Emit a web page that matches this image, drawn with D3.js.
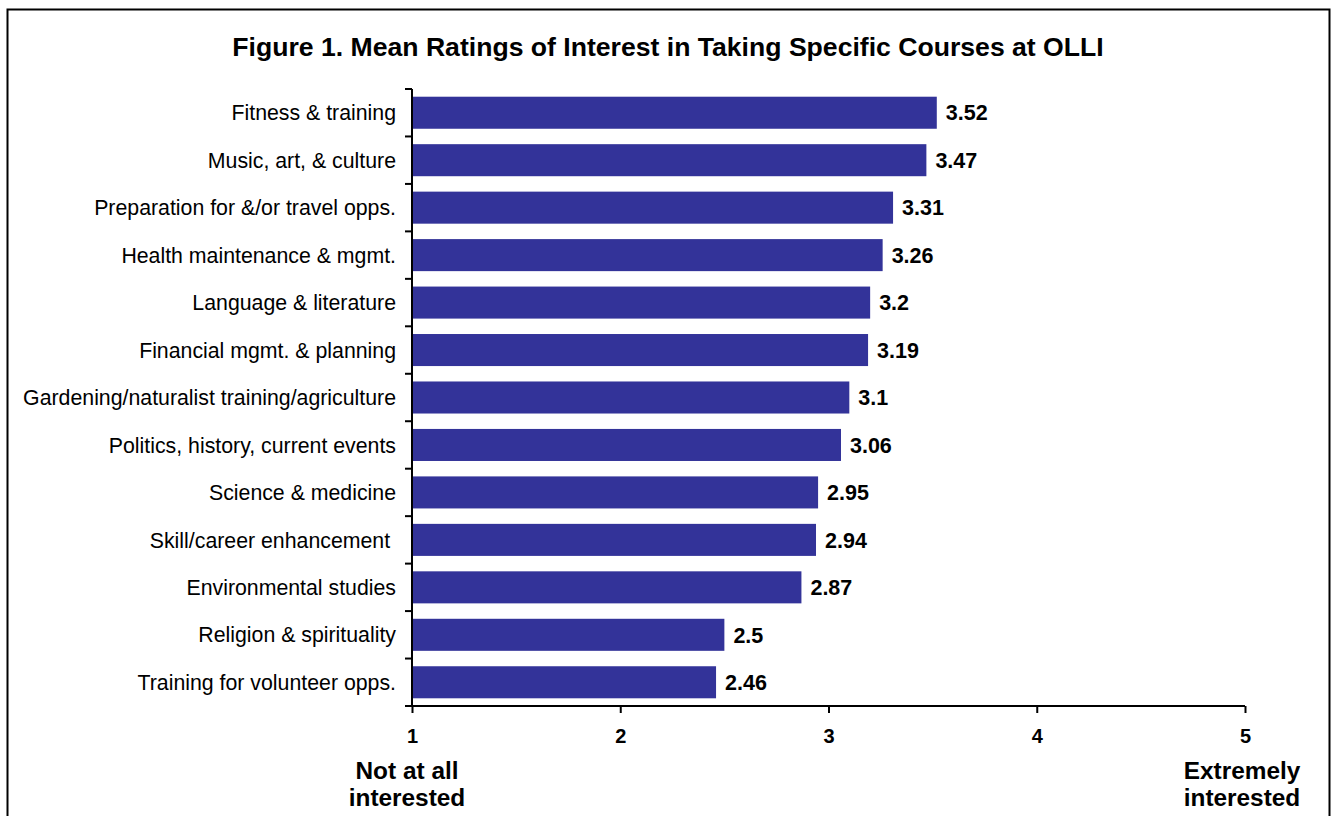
<!DOCTYPE html>
<html>
<head>
<meta charset="utf-8">
<script src="https://cdn.jsdelivr.net/npm/d3@7"></script>
<style>
  body { margin: 0; background: #fff; }
  text { font-family: "Liberation Sans", Arial, sans-serif; }
</style>
</head>
<body>
<div class="graph"></div>
<script>
const courses = [
  'Fitness & training',
  'Music, art, & culture',
  'Preparation for &/or travel opps.',
  'Health maintenance & mgmt.',
  'Language & literature',
  'Financial mgmt. & planning',
  'Gardening/naturalist training/agriculture',
  'Politics, history, current events',
  'Science & medicine',
  'Skill/career enhancement ',
  'Environmental studies',
  'Religion & spirituality',
  'Training for volunteer opps.'
];
const ratings = [3.52, 3.47, 3.31, 3.26, 3.2, 3.19, 3.1, 3.06, 2.95, 2.94, 2.87, 2.5, 2.46];
const ticks = [1, 2, 3, 4, 5];
const title = 'Figure 1. Mean Ratings of Interest in Taking Specific Courses at OLLI';

const records = courses.map((c, i) => ({ course: c, rating: ratings[i] }));

const width = 1332, height = 816;
const plot = { left: 412, right: 1245, top: 89, bottom: 706 };

const svg = d3.select('.graph').append('svg')
    .attr('width', width)
    .attr('height', height);

// frame
svg.append('rect')
    .attr('x', 7.5).attr('y', 9.5)
    .attr('width', 1322).attr('height', 820)
    .attr('fill', 'none')
    .attr('stroke', '#000')
    .attr('stroke-width', 2);

svg.append('text')
    .attr('x', 668).attr('y', 56)
    .attr('text-anchor', 'middle')
    .attr('font-size', 26.6)
    .attr('font-weight', 'bold')
    .text(title);

const scaleX = d3.scaleLinear()
    .domain([1, 5])
    .range([plot.left, plot.right]);

const scaleY = d3.scaleBand()
    .domain(courses)
    .range([plot.top, plot.bottom])
    .paddingInner(0.325)
    .paddingOuter(0.1625);

// bars
svg.selectAll('.bar')
  .data(records)
  .enter()
    .append('rect')
    .attr('class', 'bar')
    .attr('x', scaleX(1))
    .attr('y', d => scaleY(d.course))
    .attr('width', d => scaleX(d.rating) - scaleX(1))
    .attr('height', scaleY.bandwidth())
    .attr('fill', '#333399');

svg.selectAll('.value')
  .data(records)
  .enter()
    .append('text')
    .attr('class', 'value')
    .attr('x', d => scaleX(d.rating) + 9)
    .attr('y', d => scaleY(d.course) + scaleY.bandwidth() / 2)
    .attr('dy', '0.36em')
    .attr('font-size', 21.5)
    .attr('font-weight', 'bold')
    .text(d => d.rating);

// y axis: ticks sit between categories
const yAxis = svg.append('g');
yAxis.append('line')
    .attr('x1', plot.left).attr('x2', plot.left)
    .attr('y1', plot.top).attr('y2', plot.bottom)
    .attr('stroke', '#000').attr('stroke-width', 2);
const step = scaleY.step();
yAxis.selectAll('.ytick')
  .data(d3.range(courses.length + 1))
  .enter()
    .append('line')
    .attr('x1', plot.left - 7).attr('x2', plot.left)
    .attr('y1', i => plot.top + i * step)
    .attr('y2', i => plot.top + i * step)
    .attr('stroke', '#000').attr('stroke-width', 2);
yAxis.selectAll('.ylabel')
  .data(courses)
  .enter()
    .append('text')
    .attr('x', 396)
    .attr('y', d => scaleY(d) + scaleY.bandwidth() / 2)
    .attr('dy', '0.36em')
    .attr('text-anchor', 'end')
    .attr('font-size', 21.3)
    .style('white-space', 'pre')
    .text(d => d);

// x axis
const xAxis = d3.axisBottom(scaleX)
    .tickValues(ticks)
    .tickSize(7)
    .tickPadding(16)
    .tickFormat(d3.format('d'));

const gx = svg.append('g')
    .attr('transform', 'translate(0,' + plot.bottom + ')')
    .call(xAxis);
gx.select('.domain').attr('stroke-width', 2).attr('d', 'M' + (plot.left - 7) + ',0H' + plot.right);
gx.selectAll('.tick line').attr('stroke-width', 2);
gx.selectAll('.tick text')
    .attr('font-family', '"Liberation Sans", Arial, sans-serif')
    .attr('font-size', 20)
    .attr('font-weight', 'bold')
    .attr('fill', '#000');

const anchors = [
  { x: scaleX(1) - 5, lines: ['Not at all', 'interested'] },
  { x: scaleX(5) - 3, lines: ['Extremely', 'interested'] }
];
anchors.forEach(a => {
  a.lines.forEach((l, i) => {
    svg.append('text')
      .attr('x', a.x)
      .attr('y', 779 + i * 27)
      .attr('text-anchor', 'middle')
      .attr('font-size', 24.4)
      .attr('font-weight', 'bold')
      .text(l);
  });
});
</script>
</body>
</html>
